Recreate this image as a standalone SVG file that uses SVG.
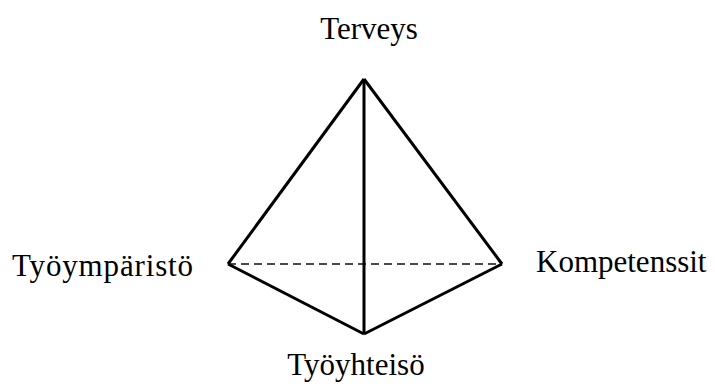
<svg xmlns="http://www.w3.org/2000/svg" width="715" height="387" viewBox="0 0 715 387">
<style>
.lbl{font-family:"Liberation Serif","Times New Roman",serif;font-size:31px;fill:#000}
.edge{stroke:#000;stroke-width:3;fill:none;stroke-linejoin:miter}
.hidden{stroke:#4a4a4a;stroke-width:2.2;stroke-dasharray:8,5;fill:none}
</style>
<rect width="715" height="387" fill="#fff"/>
<g id="connectors">
<line class="hidden" x1="228" y1="264" x2="502" y2="264"/>
<line class="edge" x1="364" y1="79" x2="228" y2="264"/>
<line class="edge" x1="364" y1="79" x2="502" y2="264"/>
<line class="edge" x1="364" y1="79" x2="364" y2="334"/>
<line class="edge" x1="228" y1="264" x2="364" y2="334"/>
<line class="edge" x1="502" y1="264" x2="364" y2="334"/>
</g>
<g id="terveys"><text class="lbl" x="369" y="39" text-anchor="middle">Terveys</text></g>
<g id="tyoymparisto"><text class="lbl" x="12" y="276" textLength="181">Työympäristö</text></g>
<g id="kompetenssit"><text class="lbl" x="536" y="272">Kompetenssit</text></g>
<g id="tyoyhteiso"><text class="lbl" x="356" y="375" text-anchor="middle">Työyhteisö</text></g>
</svg>
